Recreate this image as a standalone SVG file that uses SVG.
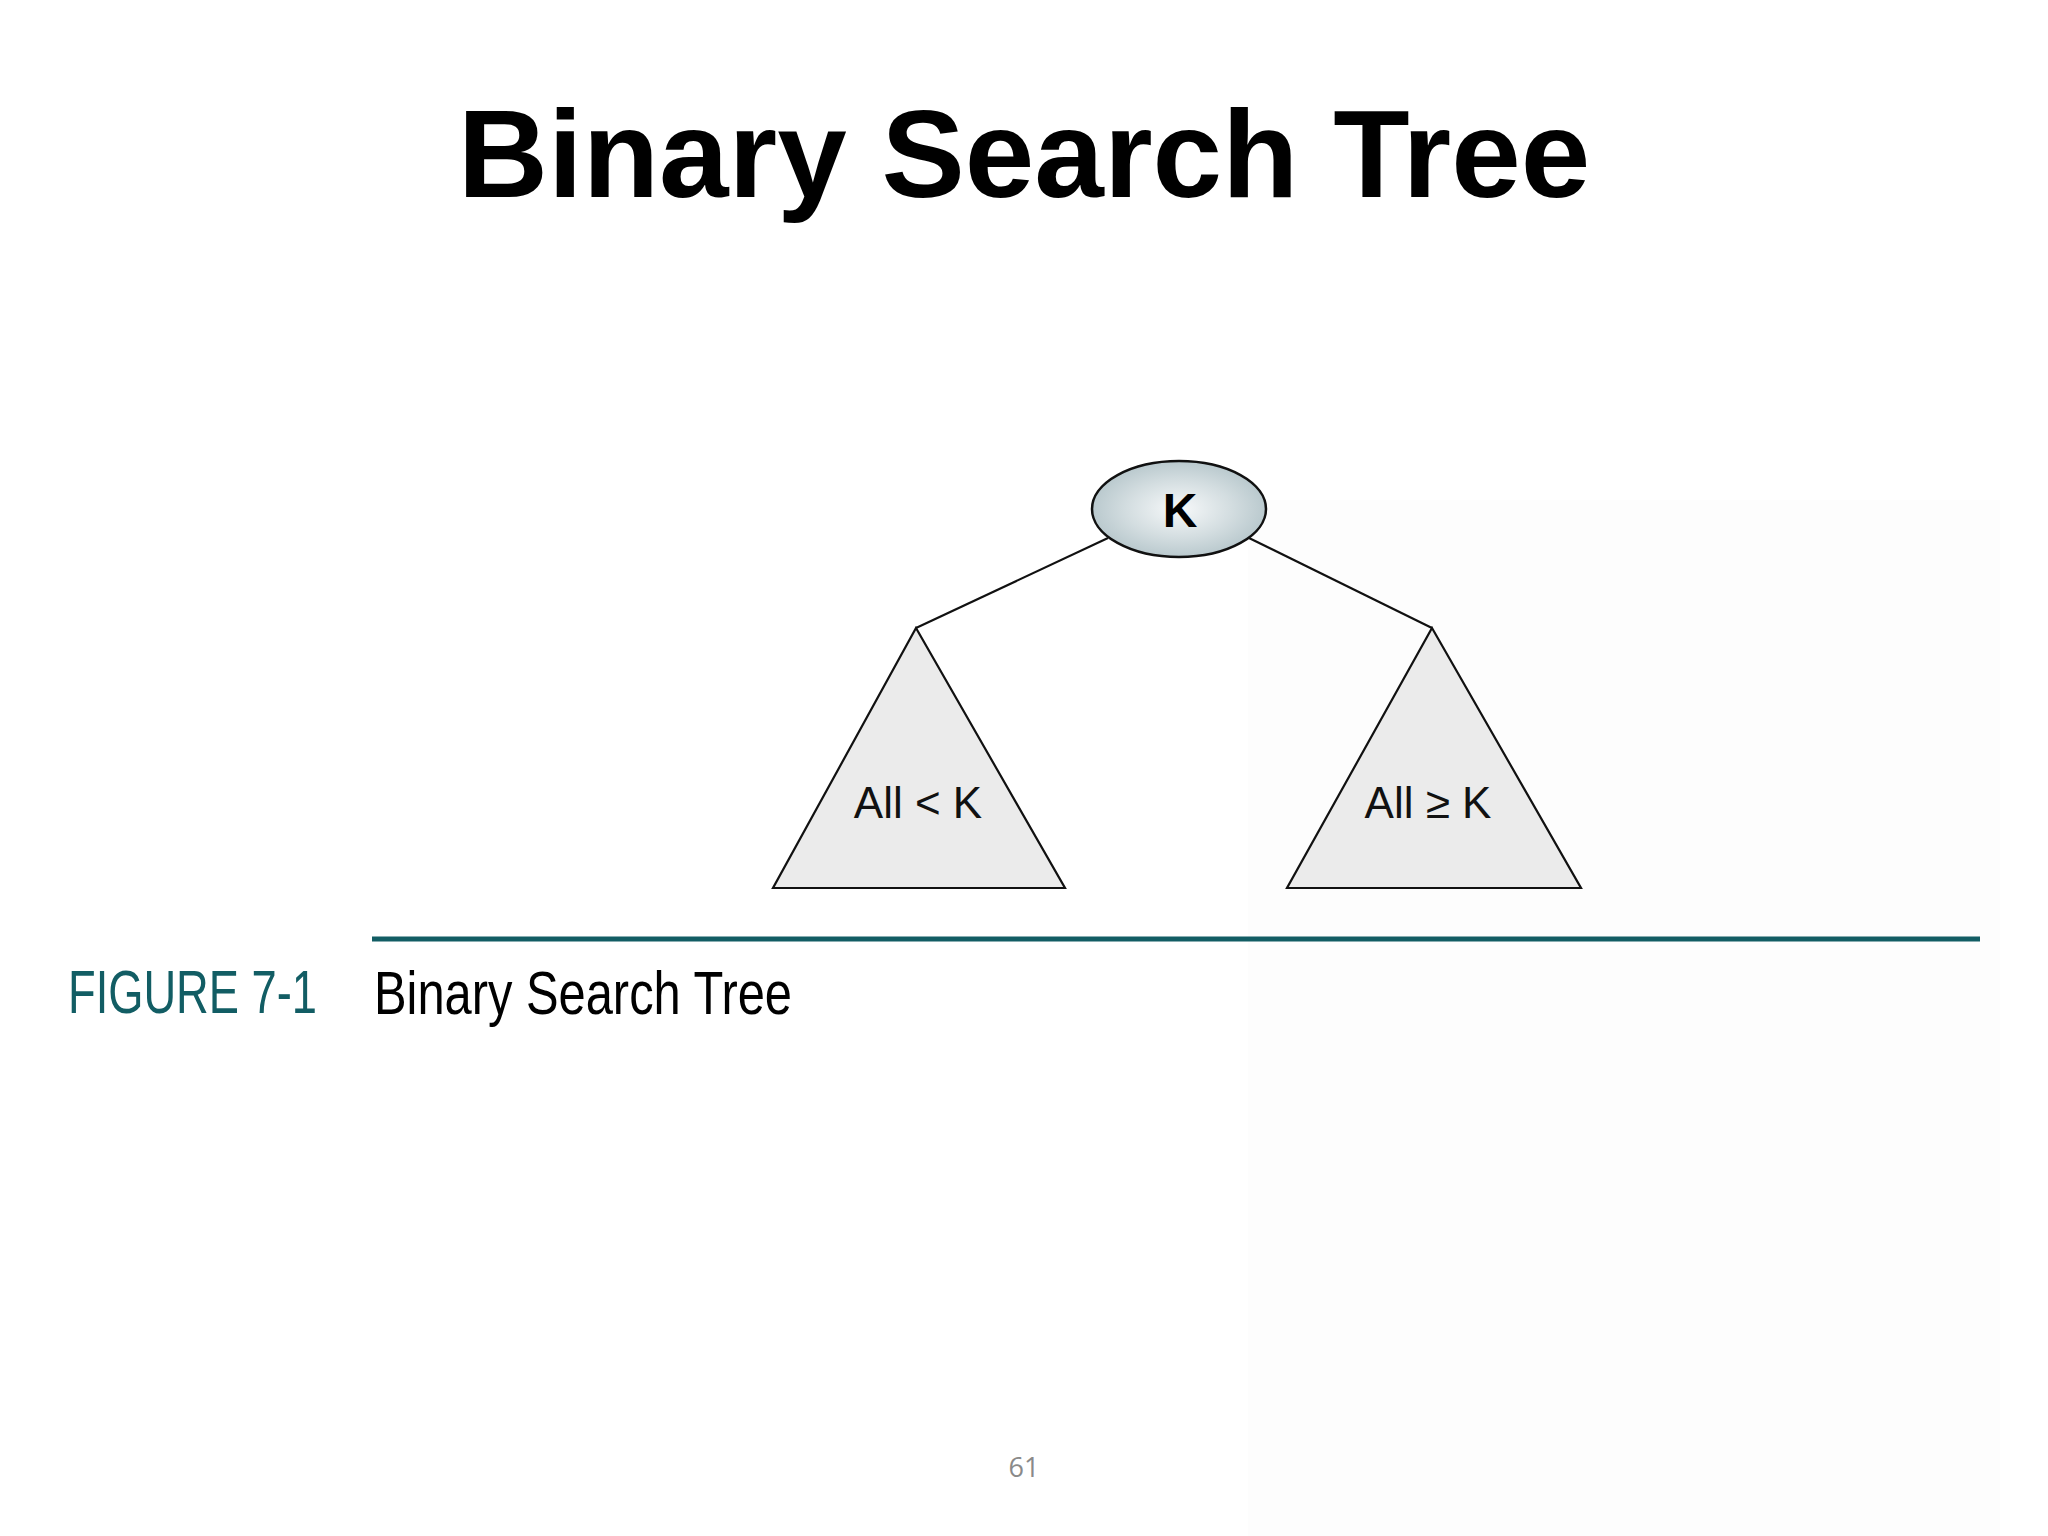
<svg xmlns="http://www.w3.org/2000/svg" width="2048" height="1536" viewBox="0 0 2048 1536">
<defs>
<radialGradient id="kgrad" cx="50%" cy="50%" r="55%">
<stop offset="0" stop-color="#f7f9fa"/>
<stop offset="0.55" stop-color="#d3dde0"/>
<stop offset="1" stop-color="#b3c4c9"/>
</radialGradient>
<style>
.edge{stroke:#111;stroke-width:2.2;fill:none}
.tri{fill:#ebebeb;stroke:#111;stroke-width:2.2;stroke-linejoin:miter}
.lbl{font-family:"Liberation Sans",Arial,sans-serif;font-size:44px;fill:#111;text-anchor:middle}
</style>
</defs>
<rect width="2048" height="1536" fill="#ffffff"/>
<rect x="1248" y="500" width="752" height="1036" fill="#fdfdfd"/>
<text id="title" x="1024" y="197" font-family="Liberation Sans, Arial, sans-serif" font-weight="bold" font-size="125" text-anchor="middle" fill="#000">Binary Search Tree</text>
<g id="connectors">
<line class="edge" x1="1108" y1="538" x2="916" y2="628"/>
<line class="edge" x1="1249" y1="538" x2="1432" y2="628"/>
</g>
<g id="node-root">
<ellipse cx="1179" cy="509" rx="87" ry="48" fill="url(#kgrad)" stroke="#111" stroke-width="2.5"/>
<text x="1180" y="527" font-family="Liberation Sans, Arial, sans-serif" font-weight="bold" font-size="48" text-anchor="middle" fill="#000">K</text>
</g>
<g id="node-left">
<polygon class="tri" points="916,628 1065,888 773,888"/>
<text class="lbl" x="918" y="818">All &lt; K</text>
</g>
<g id="node-right">
<polygon class="tri" points="1432,628 1581,888 1287,888"/>
<text class="lbl" x="1428" y="818">All ≥ K</text>
</g>
<g id="caption">
<line x1="372" y1="939" x2="1980" y2="939" stroke="#125d64" stroke-width="5"/>
<text x="68" y="1013" font-family="Liberation Sans, Arial, sans-serif" font-size="61" fill="#125d64" textLength="249" lengthAdjust="spacingAndGlyphs">FIGURE 7-1</text>
<text x="374" y="1014" font-family="Liberation Sans, Arial, sans-serif" font-size="61" fill="#000" textLength="418" lengthAdjust="spacingAndGlyphs">Binary Search Tree</text>
</g>
<text id="page" x="1024" y="1477" font-family="Open Sans, Liberation Sans, sans-serif" font-size="27" fill="#8a8a8a" text-anchor="middle">61</text>
</svg>
